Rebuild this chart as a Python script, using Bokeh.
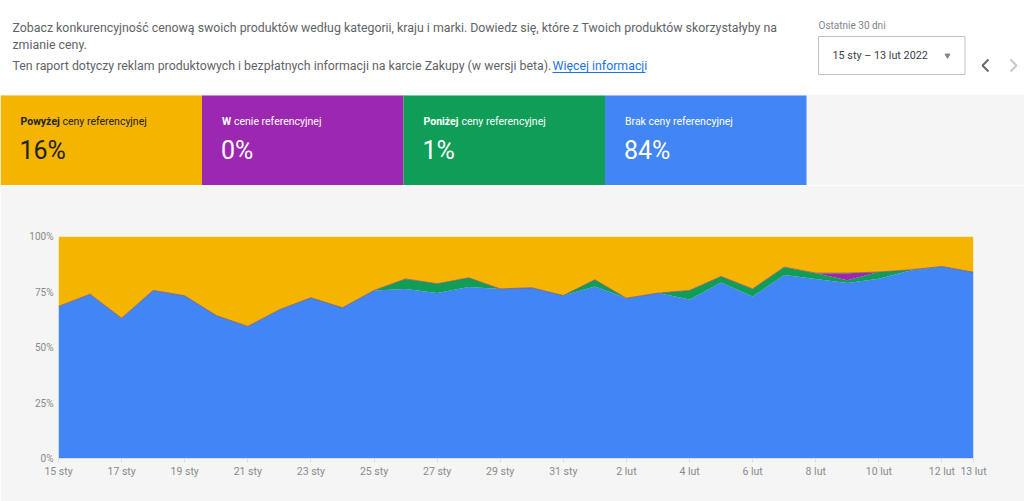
from bokeh.plotting import figure
from bokeh.models import ColumnDataSource, Range1d, FixedTicker, Label
from bokeh.layouts import column
from bokeh.transform import stack
from bokeh.embed import file_html
from bokeh.resources import INLINE

# ---------------- data ----------------
dates = ["15 sty", "16 sty", "17 sty", "18 sty", "19 sty", "20 sty", "21 sty", "22 sty",
         "23 sty", "24 sty", "25 sty", "26 sty", "27 sty", "28 sty", "29 sty", "30 sty",
         "31 sty", "1 lut", "2 lut", "3 lut", "4 lut", "5 lut", "6 lut", "7 lut", "8 lut",
         "9 lut", "10 lut", "11 lut", "12 lut", "13 lut"]
brak = [68.5, 74.0, 63.2, 75.7, 73.3, 64.4, 59.5, 67.0, 72.4, 67.9, 75.7, 76.4, 74.5, 77.2,
        76.4, 76.9, 73.4, 77.5, 72.2, 74.5, 71.6, 79.3, 73.0, 82.7, 80.8, 79.1, 81.0, 84.7,
        86.5, 83.9]
ponizej = [0, 0, 0, 0, 0, 0, 0, 0, 0, 0, 0, 4.5, 4.2, 4.2, 0, 0, 0, 3.0, 0, 0, 4.1, 2.7,
           3.4, 3.5, 2.7, 1.2, 3.0, 0.3, 0, 0]
w_cenie = [0, 0, 0, 0, 0, 0, 0, 0, 0, 0, 0, 0, 0, 0, 0, 0, 0, 0, 0, 0, 0, 0, 0, 0, 0, 3.2,
           0, 0, 0, 0]
powyzej = [31.5, 26.0, 36.8, 24.3, 26.7, 35.6, 40.5, 33.0, 27.6, 32.1, 24.3, 19.1, 21.3,
           18.6, 23.6, 23.1, 26.6, 19.5, 27.8, 25.5, 24.3, 18.0, 23.6, 13.8, 16.5, 16.5,
           16.0, 15.0, 13.5, 16.1]
tick_days = [0, 2, 4, 6, 8, 10, 12, 14, 16, 18, 20, 22, 24, 26, 28, 29]
y_ticks = [0, 25, 50, 75, 100]

tile_bold = ["Powyżej", "W", "Poniżej", ""]
tile_rest = ["ceny referencyjnej", "cenie referencyjnej", "ceny referencyjnej", "Brak ceny referencyjnej"]
tile_rest_dx = [42, 12, 38, 0]
tile_values = ["16%", "0%", "1%", "84%"]
tile_colors = ["#f4b400", "#9c27b0", "#0f9d58", "#4285f4"]
tile_text = ["#202124", "#ffffff", "#ffffff", "#ffffff"]

FONT = "Roboto"
GREY_BG = "#f5f5f5"

# ---------------- header ----------------
W = 1024
H1 = 185
hdr = figure(width=W, height=H1, x_range=Range1d(0, W), y_range=Range1d(H1, 0),
             x_axis_type=None, y_axis_type=None, toolbar_location=None,
             output_backend="svg", min_border=0, outline_line_color=None,
             background_fill_color="white", border_fill_color="white")
hdr.frame_align = False
hdr.grid.visible = False

hdr.quad(left=[0], right=[W], top=[94], bottom=[H1], fill_color=GREY_BG, line_color=None)

tile_w = 201.5
lefts = [i * tile_w for i in range(4)]
rights = [(i + 1) * tile_w for i in range(4)]
hdr.quad(left=lefts, right=rights, top=[95] * 4, bottom=[H1] * 4,
         fill_color=tile_colors, line_color=None)

for i in range(4):
    x0 = lefts[i] + 20
    if tile_bold[i]:
        hdr.add_layout(Label(x=x0, y=121, text=tile_bold[i], text_font=FONT, text_font_size="10.5px",
                             text_font_style="bold", text_color=tile_text[i], text_baseline="middle"))
    hdr.add_layout(Label(x=x0 + tile_rest_dx[i], y=121, text=tile_rest[i], text_font=FONT,
                         text_font_size="10.5px", text_color=tile_text[i], text_baseline="middle"))
    hdr.add_layout(Label(x=x0 - 1, y=150, text=tile_values[i], text_font=FONT, text_font_size="25px",
                         text_color=tile_text[i], text_baseline="middle"))

txt_col = "#5f6368"
FS = "12.35px"
hdr.add_layout(Label(x=12, y=27, text="Zobacz konkurencyjność cenową swoich produktów według kategorii, kraju i marki. Dowiedz się, które z Twoich produktów skorzystałyby na",
                     text_font=FONT, text_font_size=FS, text_color=txt_col, text_baseline="middle"))
hdr.add_layout(Label(x=12, y=44, text="zmianie ceny.", text_font=FONT, text_font_size=FS,
                     text_color=txt_col, text_baseline="middle"))
hdr.add_layout(Label(x=12, y=65, text="Ten raport dotyczy reklam produktowych i bezpłatnych informacji na karcie Zakupy (w wersji beta).",
                     text_font=FONT, text_font_size=FS, text_color=txt_col, text_baseline="middle"))
hdr.add_layout(Label(x=552, y=65, text="Więcej informacji", text_font=FONT, text_font_size=FS,
                     text_color="#1a73e8", text_baseline="middle"))
hdr.line(x=[552, 645], y=[72, 72], line_color="#1a73e8", line_width=1)

hdr.add_layout(Label(x=818, y=25, text="Ostatnie 30 dni", text_font=FONT, text_font_size="10px",
                     text_color="#80868b", text_baseline="middle"))
hdr.quad(left=[818], right=[964.5], top=[36], bottom=[74], fill_color="white",
         line_color="#bdc1c6", line_width=1)
hdr.add_layout(Label(x=832, y=55, text="15 sty – 13 lut 2022", text_font=FONT, text_font_size="10.8px",
                     text_color="#3c4043", text_baseline="middle"))
hdr.scatter(x=[947], y=[55], marker="inverted_triangle", size=5, color="#80868b")
hdr.line(x=[988, 982, 988], y=[59, 65, 71], line_color="#5f6368", line_width=1.8)
hdr.line(x=[1010, 1016, 1010], y=[59, 65, 71], line_color="#c4c7c5", line_width=1.8)

# ---------------- chart ----------------
H2 = 501 - H1
src = ColumnDataSource(dict(x=list(range(len(dates))), brak=brak, ponizej=ponizej,
                            w_cenie=w_cenie, powyzej=powyzej))
p = figure(width=W, height=H2, x_range=Range1d(0, len(dates) - 1), y_range=Range1d(0, 100),
           toolbar_location=None, output_backend="svg",
           min_border_left=58, min_border_right=51, min_border_top=51, min_border_bottom=43,
           background_fill_color=GREY_BG, border_fill_color=GREY_BG, outline_line_color=None)
p.frame_align = False
p.grid.visible = False

names = ["brak", "ponizej", "w_cenie", "powyzej"]
cols = ["#4285f4", "#0f9d58", "#9c27b0", "#f4b400"]
p.varea_stack(stackers=names, x="x", color=cols, source=src)
p.line(x="x", y=stack("brak", "ponizej", "w_cenie"), source=src, line_color="#7a5c7e",
       line_width=1, line_alpha=0.8)

p.xaxis.ticker = FixedTicker(ticks=tick_days)
p.xaxis.major_label_overrides = {d: dates[d] for d in tick_days}
p.yaxis.ticker = FixedTicker(ticks=y_ticks)
p.yaxis.major_label_overrides = {v: f"{v}%" for v in y_ticks}
for ax in (p.xaxis, p.yaxis):
    ax.major_label_text_font = FONT
    ax.major_label_text_color = "#8a8a8a"
    ax.minor_tick_line_color = None
p.xaxis.major_label_text_font_size = "10.5px"
p.yaxis.major_label_text_font_size = "10px"
p.yaxis.axis_line_color = None
p.yaxis.major_tick_line_color = None
p.yaxis.major_tick_in = 0
p.yaxis.major_tick_out = 0
p.yaxis.major_label_standoff = 5
p.xaxis.axis_line_color = "#dddddd"
p.xaxis.major_tick_line_color = "#dddddd"
p.xaxis.major_tick_in = 0
p.xaxis.major_tick_out = 4
p.xaxis.major_label_standoff = 2

layout = column(hdr, p, spacing=0)
open("out.html", "w").write(file_html(layout, INLINE))
